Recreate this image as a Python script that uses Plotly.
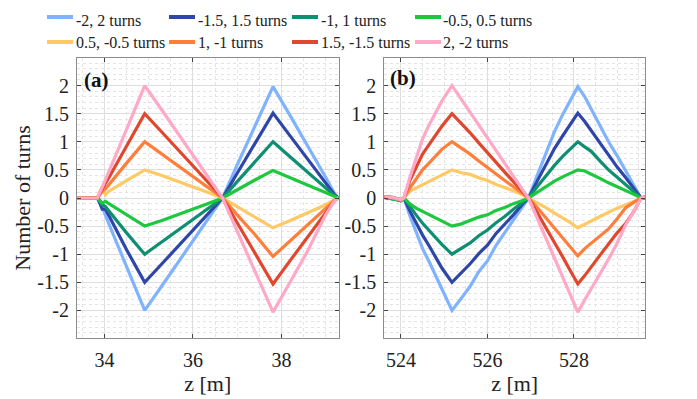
import plotly.graph_objects as go

# ---------------- data ----------------
series_names = ["-2, 2 turns", "-1.5, 1.5 turns", "-1, 1 turns", "-0.5, 0.5 turns",
                "0.5, -0.5 turns", "1, -1 turns", "1.5, -1.5 turns", "2, -2 turns"]
series_colors = ["#80B3FF", "#2E46A8", "#0F8F72", "#1DC83E",
                 "#FFC966", "#FF7F3A", "#E0482E", "#FFA8C8"]

# panel (a)
z_a = [33.38, 33.84, 33.90, 33.95, 34.02, 34.10, 34.50, 34.91, 35.30, 35.80,
       36.30, 36.67, 37.00, 37.40, 37.81, 38.20, 38.60, 39.00, 39.20, 39.29]
a_lblue  = [0, 0, -0.05, -0.16, -0.30, -0.46, -1.22, -2.00, -1.56, -0.99,
            -0.42, 0, 0.59, 1.28, 1.98, 1.46, 0.92, 0.37, 0.08, 0]
a_dblue  = [0, 0, -0.10, -0.20, -0.20, -0.31, -0.92, -1.50, -1.17, -0.74,
            -0.31, 0, 0.44, 0.96, 1.51, 1.10, 0.69, 0.27, 0.06, 0]
a_teal   = [0, 0, -0.05, -0.12, -0.15, -0.23, -0.62, -1.00, -0.78, -0.49,
            -0.21, 0, 0.29, 0.64, 1.00, 0.73, 0.46, 0.18, 0.04, 0]
a_green  = [0, 0, -0.06, -0.09, -0.06, -0.10, -0.30, -0.50, -0.40, -0.26,
            -0.11, 0, 0.15, 0.32, 0.49, 0.36, 0.23, 0.10, 0.02, 0]
a_yellow = [0, 0, 0.12, 0.20, 0.06, 0.12, 0.31, 0.50, 0.40, 0.26,
            0.11, 0, -0.15, -0.33, -0.53, -0.40, -0.26, -0.12, -0.03, 0]
a_orange = [0, 0, 0.06, 0.12, 0.16, 0.24, 0.62, 1.00, 0.78, 0.49,
            0.21, 0, -0.30, -0.65, -1.04, -0.76, -0.47, -0.18, -0.04, 0]
a_red    = [0, 0, 0.08, 0.16, 0.26, 0.36, 0.92, 1.50, 1.17, 0.74,
            0.31, 0, -0.44, -0.97, -1.53, -1.11, -0.69, -0.25, -0.05, 0]
a_pink   = [0, 0, 0.10, 0.20, 0.33, 0.47, 1.22, 2.00, 1.56, 0.99,
            0.42, 0, -0.59, -1.30, -2.03, -1.49, -0.93, -0.30, -0.05, 0]

# panel (b)
z_b = [523.615, 523.80, 524.00, 524.07, 524.20, 524.35, 524.50, 524.65, 524.80, 524.95,
       525.18, 525.40, 525.60, 525.80, 526.00, 526.20, 526.40, 526.60, 526.80, 526.95,
       527.15, 527.35, 527.55, 527.75, 527.90, 528.09, 528.25, 528.40, 528.60, 528.80,
       529.00, 529.20, 529.40, 529.55, 529.643]
b_lblue  = [0.01, -0.01, -0.05, 0, -0.30, -0.62, -0.90, -1.13, -1.38, -1.65,
            -2.00, -1.78, -1.57, -1.31, -1.12, -0.84, -0.62, -0.38, -0.18, 0,
            0.40, 0.80, 1.18, 1.50, 1.72, 1.98, 1.80, 1.58, 1.28, 1.00,
            0.75, 0.48, 0.22, 0, 0]
b_dblue  = [0.01, -0.01, -0.05, 0, -0.22, -0.45, -0.66, -0.85, -1.05, -1.25,
            -1.50, -1.33, -1.17, -0.99, -0.84, -0.63, -0.47, -0.30, -0.12, 0,
            0.30, 0.60, 0.88, 1.12, 1.30, 1.51, 1.36, 1.20, 0.97, 0.75,
            0.55, 0.36, 0.16, 0, 0]
b_teal   = [0.01, -0.01, -0.04, 0, -0.15, -0.30, -0.45, -0.58, -0.70, -0.83,
            -1.00, -0.90, -0.80, -0.67, -0.57, -0.44, -0.33, -0.20, -0.08, 0,
            0.20, 0.40, 0.58, 0.75, 0.86, 1.00, 0.91, 0.83, 0.66, 0.50,
            0.37, 0.24, 0.10, 0, 0]
b_green  = [0.01, -0.01, -0.04, 0, -0.10, -0.18, -0.24, -0.30, -0.36, -0.42,
            -0.50, -0.46, -0.40, -0.34, -0.30, -0.22, -0.17, -0.10, -0.05, 0,
            0.10, 0.20, 0.30, 0.38, 0.43, 0.50, 0.48, 0.43, 0.35, 0.27,
            0.20, 0.14, 0.06, 0, 0]
b_yellow = [0.02, 0.01, -0.03, 0, 0.12, 0.18, 0.24, 0.30, 0.36, 0.42,
            0.50, 0.45, 0.42, 0.36, 0.31, 0.24, 0.19, 0.13, 0.06, 0,
            -0.08, -0.17, -0.27, -0.36, -0.43, -0.53, -0.46, -0.41, -0.33, -0.25,
            -0.18, -0.12, -0.05, 0, 0.02]
b_orange = [0.02, 0.01, -0.03, 0, 0.17, 0.33, 0.50, 0.62, 0.75, 0.87,
            1.00, 0.89, 0.78, 0.66, 0.54, 0.43, 0.31, 0.20, 0.08, 0,
            -0.17, -0.35, -0.53, -0.71, -0.85, -1.03, -0.90, -0.80, -0.67, -0.55,
            -0.37, -0.17, -0.07, 0, 0.02]
b_red    = [0.02, 0.01, -0.03, 0, 0.30, 0.55, 0.78, 0.95, 1.12, 1.28,
            1.50, 1.33, 1.16, 0.98, 0.80, 0.63, 0.46, 0.29, 0.12, 0,
            -0.26, -0.52, -0.79, -1.06, -1.27, -1.53, -1.38, -1.22, -1.02, -0.82,
            -0.62, -0.45, -0.22, 0, 0.02]
b_pink   = [0.02, 0.01, -0.03, 0, 0.35, 0.70, 1.05, 1.30, 1.52, 1.73,
            2.00, 1.75, 1.52, 1.30, 1.08, 0.85, 0.60, 0.38, 0.16, 0,
            -0.35, -0.70, -1.06, -1.43, -1.69, -2.03, -1.81, -1.62, -1.37, -1.09,
            -0.80, -0.47, -0.22, 0, 0.02]

series_a = [a_lblue, a_dblue, a_teal, a_green, a_yellow, a_orange, a_red, a_pink]
series_b = [b_lblue, b_dblue, b_teal, b_green, b_yellow, b_orange, b_red, b_pink]

y_tickvals = [-2, -1.5, -1, -0.5, 0, 0.5, 1, 1.5, 2]
y_ticktext = ["-2", "-1.5", "-1", "-0.5", "0", "0.5", "1", "1.5", "2"]
xa_tickvals = [34, 36, 38]
xb_tickvals = [524, 526, 528]

# ---------------- figure ----------------
FONT = "Liberation Serif"
W, H = 697, 399
ML, MR, MT, MB = 77, 52, 58, 61
PW, PH = W - ML - MR, H - MT - MB
LEG_DX = 20  # horizontal correction of the legend block


def px_x(p):
    return (p + LEG_DX - ML) / PW


def px_y(p):
    return (H - MB - p) / PH


# legend layout (pixels): swatch start/end, text start, row centre
leg_col_line0 = [27, 149, 272, 395]
leg_col_line1 = [53, 175, 298, 421]
leg_col_text = [55, 177, 300, 422]
leg_row_line_y = [17, 42]
leg_row_text_y = [20, 43]

fig = go.Figure()
shapes = []
annotations = []
for i, name in enumerate(series_names):
    fig.add_trace(go.Scatter(x=z_a, y=series_a[i], mode="lines", name=name,
                             line=dict(color=series_colors[i], width=3.2),
                             xaxis="x", yaxis="y", legendgroup=name, showlegend=False))
    fig.add_trace(go.Scatter(x=z_b, y=series_b[i], mode="lines", name=name,
                             line=dict(color=series_colors[i], width=3.2),
                             xaxis="x2", yaxis="y2", legendgroup=name, showlegend=False))
    col, row = i % 4, i // 4
    shapes.append(dict(type="line", xref="paper", yref="paper",
                       x0=px_x(leg_col_line0[col]), x1=px_x(leg_col_line1[col]),
                       y0=px_y(leg_row_line_y[row]), y1=px_y(leg_row_line_y[row]),
                       line=dict(color=series_colors[i], width=4)))
    annotations.append(dict(text=name, xref="paper", yref="paper",
                            x=px_x(leg_col_text[col] - 1), y=px_y(leg_row_text_y[row]),
                            xanchor="left", yanchor="middle", showarrow=False,
                            font=dict(family=FONT, size=16, color="#222222")))

annotations += [
    dict(text="<b>(a)</b>", xref="x domain", yref="y domain", x=0.02, y=0.921,
         xanchor="left", yanchor="middle", showarrow=False,
         font=dict(family=FONT, size=21, color="#111111")),
    dict(text="<b>(b)</b>", xref="x2 domain", yref="y2 domain", x=0.014, y=0.928,
         xanchor="left", yanchor="middle", showarrow=False,
         font=dict(family=FONT, size=21, color="#111111")),
]

axis_common = dict(showline=True, linecolor="#8C8C8C", linewidth=1, mirror="ticks",
                   ticks="inside", ticklen=4, tickcolor="#444444",
                   showgrid=True, gridcolor="#DEDEDE", gridwidth=1, zeroline=False,
                   tickfont=dict(family=FONT, size=20, color="#222222"))

xminor = dict(dtick=0.5, showgrid=True, gridcolor="#E4E4E4", griddash="dot", ticks="")
yminor = dict(dtick=0.1, showgrid=True, gridcolor="#E4E4E4", griddash="dot", ticks="")

fig.update_layout(
    width=W, height=H,
    margin=dict(l=ML, r=MR, t=MT, b=MB, autoexpand=False),
    paper_bgcolor="white", plot_bgcolor="white",
    font=dict(family=FONT, color="#222222"),
    showlegend=False,
    xaxis=dict(domain=[0, 0.4604], range=[33.38, 39.29], tickvals=xa_tickvals,
               minor=xminor, ticklabelstandoff=4,
               title=dict(text="z [m]", font=dict(family=FONT, size=22), standoff=2),
               **axis_common),
    yaxis=dict(range=[-2.49, 2.49], tickvals=y_tickvals, ticktext=y_ticktext,
               minor=yminor, ticklabelstandoff=3,
               title=dict(text="Number of turns", font=dict(family=FONT, size=22), standoff=0),
               **axis_common),
    xaxis2=dict(domain=[0.541, 1], range=[523.615, 529.643], tickvals=xb_tickvals,
                minor=xminor, ticklabelstandoff=4, anchor="y2",
                title=dict(text="z [m]", font=dict(family=FONT, size=22), standoff=2),
                **axis_common),
    yaxis2=dict(range=[-2.49, 2.49], tickvals=y_tickvals, ticktext=y_ticktext,
                minor=yminor, ticklabelstandoff=3, anchor="x2",
                **axis_common),
    shapes=shapes,
    annotations=annotations,
)

fig.write_html("out.html", config={"displayModeBar": False},
               post_script="document.body.style.margin='0px';")
